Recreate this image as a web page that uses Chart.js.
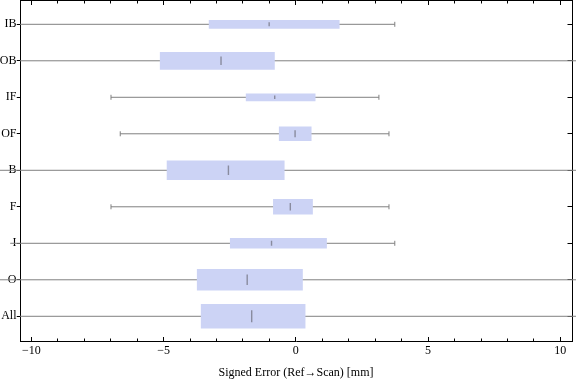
<!DOCTYPE html>
<html>
<head>
<meta charset="utf-8">
<script src="https://cdn.jsdelivr.net/npm/chart.js@4.4.1/dist/chart.umd.min.js"></script>
<style>
  html, body { margin: 0; padding: 0; background: #fff; }
  #wrap { width: 576px; height: 381px; position: relative; }
</style>
</head>
<body>
<div id="wrap"><canvas id="c"></canvas></div>
<script>
// ---- data ----
const categories   = ['IB', 'OB', 'IF', 'OF', 'B', 'F', 'I', 'O', 'All'];
const whiskerLow   = [-11.0, -12.0, -6.99, -6.64, -12.0, -6.99, -10.80, -12.0, -11.0];
const quartile1    = [-3.28, -5.13, -1.88, -0.63, -4.87, -0.85, -2.48, -3.73, -3.58];
const medians      = [-1.01, -2.83, -0.80, -0.03, -2.55, -0.21, -0.92, -1.84, -1.67];
const quartile3    = [ 1.64, -0.81,  0.73,  0.58, -0.44,  0.63,  1.16,  0.25,  0.35];
const whiskerHigh  = [ 3.74, 12.0,   3.14,  3.52, 12.0,   3.52,  3.74, 12.0,  12.0];
const xMajorTicks  = [-10, -5, 0, 5, 10];
const xMinorTicks  = [-10,-9,-8,-7,-6,-5,-4,-3,-2,-1,0,1,2,3,4,5,6,7,8,9,10];
const xTitle       = 'Signed Error (Ref\u2192Scan) [mm]';

// ---- styling ----
const boxThickness    = [8, 17, 7, 14, 19, 15, 10, 21, 24];
const whiskerClipLeft = [0, 0, 0, 0, 20, 0, 12, 20, 0];
const whiskerClipRight= [0, 5, 0, 0, 5, 0, 0, 5, 5];
const BOX_COLOR = 'rgb(204,211,245)';
const LINE_COLOR = 'rgb(128,128,128)';
const MED_COLOR = 'rgba(115,115,128,0.75)';
const FONT = { family: '"Liberation Serif", "Times New Roman", serif', size: 12 };
const X_MIN = -10.43, X_MAX = 10.44;
const Y_MIN = -0.652, Y_MAX = 8.677;

const datasets = [];
// medians (drawn on top)
datasets.push({
  type: 'line',
  indexAxis: 'y',
  order: 0,
  showLine: false,
  data: categories.map((c, i) => ({ x: medians[i], y: i })),
  pointStyle: 'line',
  rotation: 90,
  pointRadius: boxThickness.map(t => Math.max(1.5, t / 4)),
  pointHoverRadius: boxThickness.map(t => Math.max(1.5, t / 4)),
  pointBorderWidth: 1.4,
  pointBorderColor: MED_COLOR,
  pointBackgroundColor: MED_COLOR,
  xAxisID: 'x', yAxisID: 'y'
});
// boxes
categories.forEach((c, i) => {
  datasets.push({
    type: 'bar',
    order: 1,
    grouped: false,
    data: [{ x: [quartile1[i], quartile3[i]], y: i }],
    backgroundColor: BOX_COLOR,
    borderWidth: 0,
    barThickness: boxThickness[i],
    maxBarThickness: boxThickness[i],
    xAxisID: 'x', yAxisID: 'y'
  });
});
// whiskers
categories.forEach((c, i) => {
  datasets.push({
    type: 'line',
    indexAxis: 'y',
    order: 2,
    data: [{ x: whiskerLow[i], y: i }, { x: whiskerHigh[i], y: i }],
    borderColor: LINE_COLOR,
    borderWidth: 1,
    pointStyle: 'line',
    rotation: 90,
    pointRadius: 2.5,
    pointHoverRadius: 2.5,
    pointBorderWidth: 1,
    pointBorderColor: LINE_COLOR,
    tension: 0,
    clip: { left: whiskerClipLeft[i], right: whiskerClipRight[i], top: 0, bottom: 0 },
    xAxisID: 'x', yAxisID: 'y'
  });
});

const fmt = v => (v < 0 ? '\u2212' + Math.abs(v) : String(v));
const idxTicks = s => { s.ticks = categories.map((c, i) => ({ value: i })); };
const noPad = s => { s.paddingTop = 0; s.paddingBottom = 0; s.paddingLeft = 0; s.paddingRight = 0; };

new Chart(document.getElementById('c'), {
  type: 'bar',
  data: { labels: categories, datasets },
  options: {
    indexAxis: 'y',
    responsive: true,
    maintainAspectRatio: false,
    animation: false,
    events: [],
    layout: { padding: 0, autoPadding: false },
    plugins: { legend: { display: false }, tooltip: { enabled: false } },
    scales: {
      x: {
        type: 'linear', position: 'bottom', min: X_MIN, max: X_MAX, offset: false,
        afterBuildTicks: s => { s.ticks = xMajorTicks.map(v => ({ value: v })); },
        ticks: { callback: v => fmt(v), font: FONT, color: '#000', padding: 6.5, autoSkip: false, maxRotation: 0 },
        grid: { drawOnChartArea: false, offset: false, tickLength: -4, tickColor: '#000', tickWidth: 1 },
        border: { color: '#000', width: 1 },
        title: { display: true, text: xTitle, font: FONT, color: '#000', padding: { top: 0, bottom: 1.3 } },
        afterFit: s => { s.height = 40; noPad(s); }
      },
      xTop: {
        type: 'linear', axis: 'x', position: 'top', min: X_MIN, max: X_MAX, offset: false,
        afterBuildTicks: s => { s.ticks = xMajorTicks.map(v => ({ value: v })); },
        ticks: { display: false },
        grid: { drawOnChartArea: false, offset: false, tickLength: -4.5, tickColor: '#000' },
        border: { color: '#000', width: 1 },
        afterFit: s => { s.height = 0.5; noPad(s); }
      },
      xMinB: {
        type: 'linear', axis: 'x', position: { y: Y_MAX }, min: X_MIN, max: X_MAX, offset: false,
        afterBuildTicks: s => { s.ticks = xMinorTicks.map(v => ({ value: v })); },
        ticks: { display: false },
        grid: { drawOnChartArea: false, offset: false, tickLength: -2.5, tickColor: '#000' },
        border: { display: false },
        afterFit: s => { s.height = 0; noPad(s); }
      },
      xMinT: {
        type: 'linear', axis: 'x', position: { y: Y_MIN }, min: X_MIN, max: X_MAX, offset: false,
        afterBuildTicks: s => { s.ticks = xMinorTicks.map(v => ({ value: v })); },
        ticks: { display: false },
        grid: { drawOnChartArea: false, offset: false, tickLength: 2.5, tickColor: '#000' },
        border: { display: false },
        afterFit: s => { s.height = 0; noPad(s); }
      },
      y: {
        type: 'linear', position: 'left', reverse: true, min: Y_MIN, max: Y_MAX, z: 1, offset: false,
        afterBuildTicks: idxTicks,
        ticks: {
          callback: v => categories[v], font: FONT, color: '#000', padding: 0, autoSkip: false,
          showLabelBackdrop: true, backdropColor: '#fff',
          backdropPadding: { top: -4, bottom: -4, left: 0, right: 0 }
        },
        grid: { drawOnChartArea: false, offset: false, tickLength: 3.5, tickColor: '#000' },
        border: { color: '#000', width: 1 },
        afterFit: s => { s.width = 20; noPad(s); }
      },
      yR: {
        type: 'linear', axis: 'y', position: 'right', reverse: true, min: Y_MIN, max: Y_MAX, offset: false,
        afterBuildTicks: idxTicks,
        ticks: { display: false },
        grid: { drawOnChartArea: false, offset: false, tickLength: -4.5, tickColor: '#000' },
        border: { color: '#000', width: 1 },
        afterFit: s => { s.width = 4; noPad(s); }
      }
    }
  }
});
</script>
</body>
</html>
